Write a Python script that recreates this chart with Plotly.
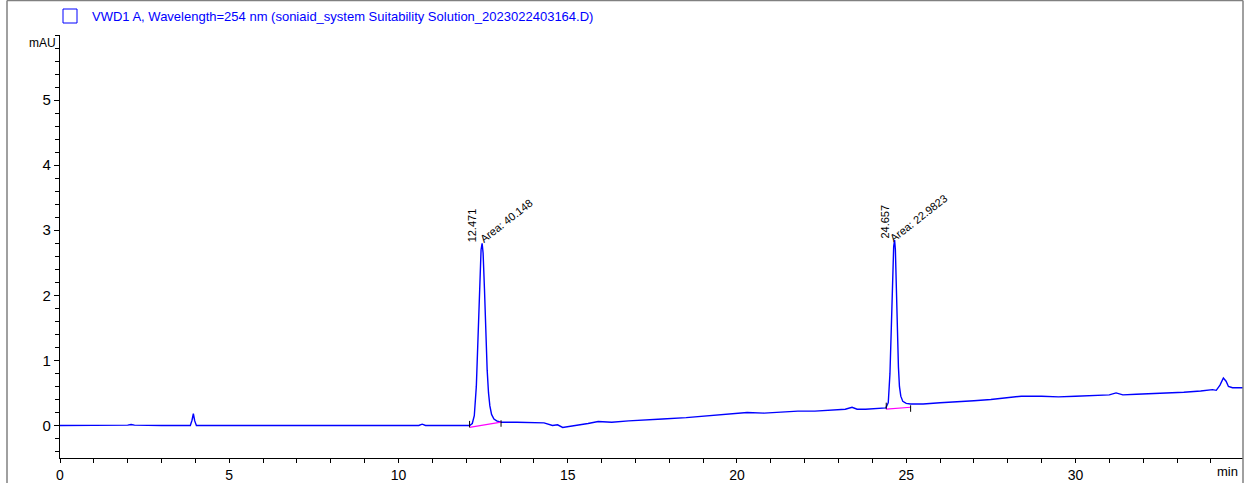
import plotly.graph_objects as go

# Detector signal (VWD1 A, 254 nm): retention time in minutes and absorbance in mAU
time_min = [
    0.00, 1.00, 2.00, 2.10, 2.20, 3.00, 3.85, 3.90, 3.94, 3.98, 4.03,
    5.00, 6.00, 7.00, 8.00, 9.00, 10.00, 10.60, 10.70, 10.80, 11.00, 12.00,
    12.10, 12.18, 12.24, 12.30, 12.35, 12.40, 12.44, 12.471, 12.50, 12.54,
    12.58, 12.62, 12.66, 12.70, 12.75, 12.82, 12.90, 13.03,
    13.50, 14.00, 14.30, 14.55, 14.70, 14.85, 15.00, 15.30, 15.60, 15.90,
    16.30, 16.80, 17.30, 17.80, 18.50, 19.20, 19.80, 20.30, 20.80, 21.30,
    21.80, 22.30, 22.80, 23.20, 23.40, 23.55, 23.80, 24.10, 24.30,
    24.40, 24.47, 24.52, 24.56, 24.60, 24.63, 24.657, 24.68, 24.71, 24.74,
    24.77, 24.80, 24.84, 24.90, 25.00, 25.13,
    25.50, 26.00, 26.50, 27.00, 27.50, 28.00, 28.40, 29.00, 29.50, 30.00,
    30.50, 31.00, 31.20, 31.40, 31.80, 32.30, 32.80, 33.20, 33.70, 33.96,
    34.05, 34.16, 34.27, 34.37, 34.45, 34.52, 34.64, 34.80, 34.95,
]
signal_mau = [
    0.00, 0.00, 0.005, 0.015, 0.005, 0.00, 0.00, 0.08, 0.18, 0.07, 0.00,
    0.00, 0.00, 0.00, 0.00, 0.00, 0.00, 0.00, 0.02, 0.00, 0.00, 0.00,
    0.00, 0.03, 0.15, 0.60, 1.30, 2.20, 2.70, 2.80, 2.65, 2.10,
    1.40, 0.85, 0.50, 0.30, 0.17, 0.10, 0.07, 0.05,
    0.05, 0.05, 0.04, 0.00, 0.01, -0.03, -0.02, 0.00, 0.03, 0.06,
    0.05, 0.07, 0.08, 0.10, 0.12, 0.15, 0.18, 0.20, 0.19, 0.21,
    0.22, 0.22, 0.24, 0.25, 0.28, 0.25, 0.25, 0.26, 0.26,
    0.27, 0.35, 0.80, 1.50, 2.30, 2.75, 2.85, 2.70, 2.10, 1.40,
    0.90, 0.60, 0.45, 0.37, 0.34, 0.33,
    0.33, 0.35, 0.36, 0.38, 0.40, 0.43, 0.45, 0.45, 0.44, 0.45,
    0.46, 0.47, 0.50, 0.47, 0.48, 0.49, 0.50, 0.51, 0.53, 0.54,
    0.55, 0.54, 0.62, 0.73, 0.68, 0.60, 0.58, 0.58, 0.58,
]

# Integrated peaks: apex time, area, and the drawn integration baseline ends
peak_rt = [12.471, 24.657]
peak_area = [40.148, 22.9823]
peak_height = [2.80, 2.85]
base_start_t = [12.10, 24.41]
base_start_v = [-0.03, 0.25]
base_end_t = [13.03, 25.13]
base_end_v = [0.05, 0.28]

x_ticks = [0, 5, 10, 15, 20, 25, 30]
y_ticks = [0, 1, 2, 3, 4, 5]

trace_name = ("VWD1 A, Wavelength=254 nm (soniaid_system Suitability "
              "Solution_2023022403164.D)")

BLUE = "#0000FF"
FONT = "Liberation Sans, Arial, sans-serif"

# plot-area geometry in pixels, used to place paper-referenced decorations
L, R, T, B = 60, 11, 35, 25
PW, PH = 1254 - L - R, 483 - T - B


def px_x(px):
    return (px - L) / PW


def px_y(py):
    return 1 - (py - T) / PH


fig = go.Figure()

fig.add_trace(go.Scatter(
    x=time_min, y=signal_mau, mode="lines",
    line=dict(color=BLUE, width=1.4), showlegend=False, hoverinfo="x+y",
))

# integration baselines (magenta) with black start/end markers
for i in range(len(peak_rt)):
    fig.add_trace(go.Scatter(
        x=[base_start_t[i], base_end_t[i]], y=[base_start_v[i], base_end_v[i]],
        mode="lines", line=dict(color="#FF00FF", width=1.2),
        showlegend=False, hoverinfo="skip",
    ))
    fig.add_shape(type="line", xref="x", yref="y",
                  x0=base_start_t[i], x1=base_start_t[i],
                  y0=base_start_v[i], y1=base_start_v[i] + 0.1,
                  line=dict(color="black", width=1))
    fig.add_shape(type="line", xref="x", yref="y",
                  x0=base_end_t[i], x1=base_end_t[i],
                  y0=base_end_v[i] - 0.07, y1=base_end_v[i] + 0.03,
                  line=dict(color="black", width=1))

    # retention-time label (vertical) and area label (diagonal)
    fig.add_annotation(
        x=peak_rt[i], y=peak_height[i], xref="x", yref="y",
        text=f"{peak_rt[i]:.3f}", showarrow=False, textangle=-90,
        font=dict(family=FONT, size=11, color="black"),
        xanchor="center", yanchor="middle", xshift=-10, yshift=18,
    )
    fig.add_annotation(
        x=peak_rt[i], y=peak_height[i], xref="x", yref="y",
        text=f"Area: {peak_area[i]:g}", showarrow=False, textangle=-38,
        font=dict(family=FONT, size=11, color="black"),
        xanchor="center", yanchor="middle", xshift=24, yshift=22,
    )

# signal description header with a blue box marker
fig.add_shape(type="rect", xref="paper", yref="paper",
              x0=px_x(63), x1=px_x(77), y0=px_y(23), y1=px_y(9),
              line=dict(color=BLUE, width=1))
fig.add_annotation(
    xref="paper", yref="paper", x=px_x(90), y=px_y(16),
    text=trace_name, showarrow=False, xanchor="left", yanchor="middle",
    font=dict(family=FONT, size=13, color=BLUE),
)

# axis unit labels
fig.add_annotation(
    xref="paper", yref="paper", x=px_x(58), y=px_y(43),
    text="mAU", showarrow=False, xanchor="right", yanchor="middle",
    font=dict(family=FONT, size=12, color="black"),
)
fig.add_annotation(
    xref="paper", yref="paper", x=px_x(1240), y=px_y(471),
    text="min", showarrow=False, xanchor="right", yanchor="middle",
    font=dict(family=FONT, size=13, color="black"),
)

# outer gray frame lines
for x0, y0, x1, y1 in [
    (px_x(7), px_y(490), px_x(7), px_y(0.5)),
    (px_x(7), px_y(0.5), 1.0, px_y(0.5)),
    (1.0, px_y(490), 1.0, px_y(0.5)),
]:
    fig.add_shape(type="line", xref="paper", yref="paper",
                  x0=x0, y0=y0, x1=x1, y1=y1,
                  line=dict(color="#808080", width=1.5))

fig.update_xaxes(
    range=[0, 34.95], tickvals=x_ticks, ticktext=[str(v) for v in x_ticks],
    ticks="outside", ticklen=4, tickcolor="black", tickwidth=1,
    minor=dict(dtick=1, ticks="outside", ticklen=4, tickcolor="black", tickwidth=1),
    showline=True, linecolor="black", linewidth=1.2,
    showgrid=False, zeroline=False, automargin=False,
    tickfont=dict(family=FONT, size=14, color="black"),
)
fig.update_yaxes(
    range=[-0.5, 6.0], tickvals=y_ticks, ticktext=[str(v) for v in y_ticks],
    ticks="outside", ticklen=5, tickcolor="black", tickwidth=1,
    minor=dict(dtick=0.2, tick0=0, ticks="outside", ticklen=4,
               tickcolor="black", tickwidth=1),
    showline=True, linecolor="black", linewidth=1.2,
    showgrid=False, zeroline=False, automargin=False,
    tickfont=dict(family=FONT, size=15, color="black"),
)

fig.update_layout(
    width=1254, height=483,
    margin=dict(l=L, r=R, t=T, b=B, pad=0),
    paper_bgcolor="white", plot_bgcolor="white",
    showlegend=False,
)

fig.write_html("out.html")
